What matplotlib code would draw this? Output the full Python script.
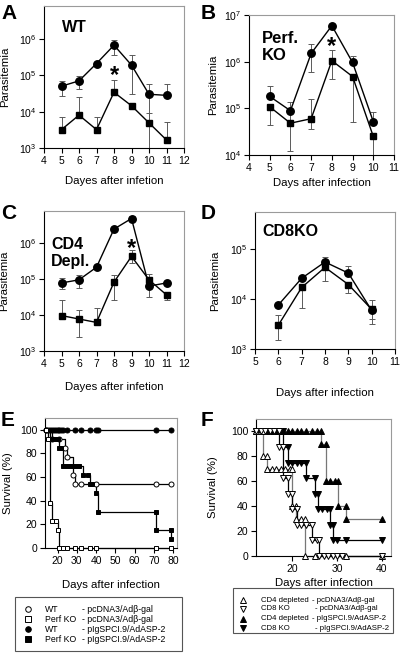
import numpy as np
import matplotlib
matplotlib.use("Agg")
import matplotlib.pyplot as plt
from matplotlib.lines import Line2D
from matplotlib.patches import Rectangle

plt.rcParams['font.family'] = ['Liberation Sans', 'DejaVu Sans']
plt.rcParams['mathtext.fontset'] = 'custom'
plt.rcParams['mathtext.rm'] = 'Liberation Sans'
plt.rcParams['mathtext.default'] = 'regular'

# ---------------- data: parasitemia ----------------
A_days = [5, 6, 7, 8, 9, 10, 11]
A_circ = [5.0e4, 7.0e4, 2.1e5, 6.7e5, 1.9e5, 3.0e4, 2.8e4]
A_circ_hi = [7.0e4, 9.5e4, 2.1e5, 9.3e5, 3.5e5, 5.6e4, 5.7e4]
A_circ_lo = [2.7e4, 4.2e4, 2.1e5, 3.6e5, 3.0e4, 8.0e2, 2.8e4]
A_sq = [3.2e3, 8.0e3, 3.2e3, 3.4e4, 1.45e4, 4.9e3, 1.66e3]
A_sq_hi = [7.3e3, 2.6e4, 7.3e3, 7.2e4, 1.45e4, 9.2e3, 5.3e3]
A_sq_lo = [3.2e3, 8.0e3, 3.2e3, 3.4e4, 1.45e4, 4.9e3, 1.66e3]

B_days = [5, 6, 7, 8, 9, 10]
B_circ = [1.8e5, 8.9e4, 1.5e6, 5.9e6, 9.6e5, 5.2e4]
B_circ_hi = [3.0e5, 8.9e4, 2.4e6, 5.9e6, 1.3e6, 8.3e4]
B_circ_lo = [1.8e5, 8.9e4, 6.0e5, 5.9e6, 9.6e5, 5.2e4]
B_sq = [1.08e5, 4.8e4, 6.0e4, 1.05e6, 4.8e5, 2.5e4]
B_sq_hi = [1.08e5, 1.4e5, 1.6e5, 1.8e6, 4.8e5, 2.5e4]
B_sq_lo = [4.5e4, 1.2e4, 3.6e4, 4.3e5, 5.2e4, 8.0e3]

C_days = [5, 6, 7, 8, 9, 10, 11]
C_circ = [7.7e4, 9.4e4, 2.1e5, 2.4e6, 4.7e6, 6.3e4, 7.7e4]
C_circ_hi = [1.07e5, 1.3e5, 2.1e5, 2.4e6, 5.4e6, 6.3e4, 7.7e4]
C_circ_lo = [5.2e4, 5.6e4, 2.1e5, 2.4e6, 4.7e6, 3.2e4, 7.7e4]
C_sq = [9.6e3, 7.7e3, 6.2e3, 8.1e4, 4.2e5, 9.4e4, 3.6e4]
C_sq_hi = [2.6e4, 1.37e4, 1.6e4, 1.3e5, 6.2e5, 1.4e5, 3.6e4]
C_sq_lo = [9.6e3, 2.4e3, 6.2e3, 2.6e4, 2.7e5, 9.4e4, 2.6e4]

D_days = [6, 7, 8, 9, 10]
D_circ = [7.6e3, 2.6e4, 5.5e4, 3.3e4, 5.9e3]
D_circ_hi = [7.6e3, 2.6e4, 7.0e4, 4.5e4, 9.4e3]
D_circ_lo = [7.6e3, 2.6e4, 5.5e4, 3.3e4, 3.9e3]
D_sq = [3.0e3, 1.7e4, 4.3e4, 1.95e4, 6.2e3]
D_sq_hi = [4.7e3, 1.7e4, 4.3e4, 1.95e4, 6.2e3]
D_sq_lo = [1.5e3, 6.7e3, 2.3e4, 1.3e4, 3.1e3]

# ---------------- data: survival E ----------------
E_wt_pc_days = [14, 17, 21, 24, 25, 28, 29, 32, 40, 71, 79]
E_wt_pc_surv = [100, 92.3, 92.3, 84.6, 76.9, 61.5, 53.8, 53.8, 53.8, 53.8, 53.8]
E_pko_pc_days = [14, 15, 16, 17, 19, 20, 21, 23, 25, 29, 32, 37, 40, 71, 79]
E_pko_pc_surv = [100, 92.3, 38.5, 23.1, 23.1, 15.4, 0, 0, 0, 0, 0, 0, 0, 0, 0]
E_wt_asp_days = [14, 15, 16, 17, 18, 19, 20, 21, 22, 23, 25, 29, 32, 37, 40, 41, 71, 79]
E_wt_asp_surv = [100] * 18
E_pko_asp_days = [14, 16, 18, 20, 21, 22, 23, 25, 27, 29, 31, 33, 36, 37, 38, 40, 41, 71, 71, 79, 79]
E_pko_asp_surv = [100, 92.3, 92.3, 92.3, 84.6, 84.6, 69.2, 69.2, 69.2, 69.2, 69.2, 61.5, 61.5,
                  53.8, 53.8, 46.2, 30.8, 30.8, 15.4, 15.4, 7.7]

# ---------------- data: survival F ----------------
F_cd4_pc_days = [12, 13, 13.5, 13.5, 14.5, 14.5, 15.5, 16.5, 17.5, 18.5, 19.5, 20, 20, 20.8, 20.8,
                 22, 22.8, 22.8, 25, 32, 40]
F_cd4_pc_surv = [100, 100, 100, 80, 80, 70, 70, 70, 70, 70, 70, 70, 40, 40, 30,
                 30, 30, 0, 0, 0, 0]
F_cd8_pc_days = [12, 13, 14, 15, 16, 17, 17, 18, 18, 19, 19, 20, 20, 21, 21, 22, 23, 24.5, 24.5,
                 25.5, 26, 26, 27, 28, 29, 30, 31, 40]
F_cd8_pc_surv = [100, 100, 100, 100, 100, 100, 87.5, 87.5, 62.5, 62.5, 50, 50, 37.5, 37.5, 25,
                 25, 25, 25, 12.5, 12.5, 12.5, 0, 0, 0, 0, 0, 0, 0]
F_cd4_asp_days = [12, 13, 14, 15, 16, 17, 18, 19, 20, 21, 22, 23, 24.5, 25.5, 26.5,
                  26.5, 27.5, 27.5, 28.5, 29.5, 30.3, 30.3, 32, 32, 40]
F_cd4_asp_surv = [100] * 15 + [90, 90, 60, 60, 60, 60, 40, 40, 30, 30]
F_cd8_asp_days = [12, 13, 14, 15, 16, 17, 18, 18, 19, 19, 20, 21, 22, 23, 23, 25, 25, 25.7, 25.7,
                  26.7, 27.7, 28.5, 28.5, 29, 29, 30, 32, 40]
F_cd8_asp_surv = [100] * 7 + [87.5] * 2 + [75] * 5 + [62.5] * 2 + [50] * 2 + [37.5] * 4 + [25] * 2 + [12.5] * 4

W, H = 400, 653
fig = plt.figure(figsize=(W / 100, H / 100), dpi=100)


def rect(x0, y0, x1, y1):
    return [x0 / W, 1 - y1 / H, (x1 - x0) / W, (y1 - y0) / H]


FRAME = '#9a9a9a'
TICK_FS = 7.5
LAB_FS = 8.2


def style(ax):
    for s in ax.spines.values():
        s.set_color(FRAME)
        s.set_linewidth(0.8)
    ax.spines['left'].set_color('black')
    ax.spines['bottom'].set_color('black')
    ax.tick_params(direction='out', length=3.5, width=0.8, labelsize=TICK_FS, pad=2, colors='black')
    ax.tick_params(which='minor', length=0)


def para(ax, days, c, clo, chi, s, slo, shi, xlim, ylim, xlabel, xlab_off, h_px):
    days = np.array(days)
    c, clo, chi = map(np.array, (c, clo, chi))
    s, slo, shi = map(np.array, (s, slo, shi))
    ax.set_yscale('log')
    ekw = dict(fmt='none', ecolor='#5a5a5a', elinewidth=0.7, capsize=2, capthick=0.7, zorder=2)
    ax.errorbar(days, c, yerr=[c - clo, chi - c], **ekw)
    ax.errorbar(days, s, yerr=[s - slo, shi - s], **ekw)
    ax.plot(days, c, '-o', color='black', ms=5.4, lw=1, zorder=3)
    ax.plot(days, s, '-s', color='black', ms=4.8, lw=1, zorder=3)
    ax.set_xlim(*xlim)
    ax.set_ylim(*ylim)
    ax.set_xticks(range(int(xlim[0]), int(xlim[1]) + 1))
    style(ax)
    ax.set_xlabel(xlabel, fontsize=LAB_FS, va='center')
    ax.xaxis.set_label_coords(0.5, -xlab_off / h_px)
    ax.set_ylabel('Parasitemia', fontsize=LAB_FS, va='center')


# Panel A
axA = fig.add_axes(rect(44, 6, 184, 148))
para(axA, A_days, A_circ, A_circ_lo, A_circ_hi, A_sq, A_sq_lo, A_sq_hi, (4, 12), (1e3, 8e6),
     'Dayes after infetion', 33, 142)
axA.yaxis.set_label_coords(-39 / 140, 0.5)
axA.set_yticks([1e3, 1e4, 1e5, 1e6])
axA.text(8, 1.0e5, '*', fontsize=17, fontweight='bold', ha='center', va='center')
axA.text(0.13, 0.85, 'WT', transform=axA.transAxes, fontsize=11.5, fontweight='bold', va='center')

# Panel B
axB = fig.add_axes(rect(249, 15, 394, 155))
para(axB, B_days, B_circ, B_circ_lo, B_circ_hi, B_sq, B_sq_lo, B_sq_hi, (4, 11), (1e4, 1e7),
     'Days after infection', 28, 140)
axB.yaxis.set_label_coords(-36 / 145, 0.5)
axB.set_yticks([1e4, 1e5, 1e6, 1e7])
axB.text(8, 2.1e6, '*', fontsize=17, fontweight='bold', ha='center', va='center')
axB.text(0.09, 0.77, 'Perf.\nKO', transform=axB.transAxes, fontsize=12, fontweight='bold',
         va='center', linespacing=1.15)

# Panel C
axC = fig.add_axes(rect(44, 211, 184, 351))
para(axC, C_days, C_circ, C_circ_lo, C_circ_hi, C_sq, C_sq_lo, C_sq_hi, (4, 12), (1e3, 7.6e6),
     'Dayes after infetion', 36, 140)
axC.yaxis.set_label_coords(-40 / 140, 0.5)
axC.set_yticks([1e3, 1e4, 1e5, 1e6])
axC.text(9, 7.0e5, '*', fontsize=17, fontweight='bold', ha='center', va='center')
axC.text(0.05, 0.7, 'CD4\nDepl.', transform=axC.transAxes, fontsize=11.5, fontweight='bold',
         va='center', linespacing=1.15)

# Panel D
axD = fig.add_axes(rect(255, 212, 395, 349))
para(axD, D_days, D_circ, D_circ_lo, D_circ_hi, D_sq, D_sq_lo, D_sq_hi, (5, 11), (1e3, 5.5e5),
     'Days after infection', 44, 137)
axD.yaxis.set_label_coords(-40 / 140, 0.5)
axD.set_yticks([1e3, 1e4, 1e5])
axD.text(0.05, 0.86, 'CD8KO', transform=axD.transAxes, fontsize=11.5, fontweight='bold', va='center')


# Survival panels
def surv(ax, series, xlim, xticks, xlab_off, h_px, ylab_off, w_px):
    for days, s, mk, mfc, lc, ms in series:
        ax.plot(days, s, drawstyle='steps-post', color=lc, lw=0.9, zorder=2, clip_on=False)
        ax.plot(days, s, linestyle='none', marker=mk, mfc=mfc, mec='black', mew=0.7, ms=ms,
                zorder=3, clip_on=False)
    ax.set_xlim(*xlim)
    ax.set_ylim(0, 110)
    ax.set_xticks(xticks)
    ax.set_yticks([0, 20, 40, 60, 80, 100])
    style(ax)
    ax.set_xlabel('Days after infection', fontsize=LAB_FS, va='center')
    ax.xaxis.set_label_coords(0.5, -xlab_off / h_px)
    ax.set_ylabel('Survival (%)', fontsize=LAB_FS, va='center')
    ax.yaxis.set_label_coords(-ylab_off / w_px, 0.5)


axE = fig.add_axes(rect(45, 418, 177, 548))
surv(axE, [
    (E_wt_asp_days, E_wt_asp_surv, 'o', 'black', 'black', 3.6),
    (E_wt_pc_days, E_wt_pc_surv, 'o', 'white', 'black', 3.6),
    (E_pko_asp_days, E_pko_asp_surv, 's', 'black', 'black', 3.4),
    (E_pko_pc_days, E_pko_pc_surv, 's', 'white', 'black', 3.4),
], (13.5, 82), [20, 30, 40, 50, 60, 70, 80], 37, 130, 37, 132)

axF = fig.add_axes(rect(256, 419, 391, 556))
surv(axF, [
    (F_cd4_asp_days, F_cd4_asp_surv, '^', 'black', '#777777', 4.0),
    (F_cd8_asp_days, F_cd8_asp_surv, 'v', 'black', 'black', 4.0),
    (F_cd4_pc_days, F_cd4_pc_surv, '^', 'white', '#777777', 4.0),
    (F_cd8_pc_days, F_cd8_pc_surv, 'v', 'white', 'black', 4.0),
], (12, 42), [20, 30, 40], 27, 137, 43, 135)

# Panel letters
for lab, x, y in [('A', 1, 4), ('B', 201, 4), ('C', 1, 204), ('D', 201, 204), ('E', 1, 411), ('F', 201, 411)]:
    fig.text(x / W, 1 - y / H, lab, fontsize=15, fontweight='bold', va='top', ha='left')


# Legends (manual boxes)
def legend_box(x0, y0, x1, y1, rows, mx, t1x, ms, fs):
    fig.patches.append(Rectangle((x0 / W, 1 - y1 / H), (x1 - x0) / W, (y1 - y0) / H,
                                 transform=fig.transFigure, fill=False, ec='#555555', lw=0.8))
    for (y, mk, mfc, t1, t2, t2x) in rows:
        fig.lines.append(Line2D([mx / W], [1 - y / H], marker=mk, mfc=mfc, mec='black', mew=0.7,
                                ms=ms, linestyle='none', transform=fig.transFigure))
        fig.text(t1x / W, 1 - y / H, t1, fontsize=fs, va='center', ha='left')
        fig.text(t2x / W, 1 - y / H, t2, fontsize=fs, va='center', ha='left')


legend_box(15, 597, 182, 651, [
    (609, 'o', 'white', 'WT', '- pcDNA3/Adβ-gal', 82),
    (619, 's', 'white', 'Perf KO', '- pcDNA3/Adβ-gal', 82),
    (629, 'o', 'black', 'WT', '- pIgSPCI.9/AdASP-2', 82),
    (639, 's', 'black', 'Perf KO', '- pIgSPCI.9/AdASP-2', 82),
], 28, 45, 4.0, 6.3)

legend_box(233, 588, 393, 633, [
    (600, '^', 'white', 'CD4 depleted', '- pcDNA3/Adβ-gal', 312),
    (609, 'v', 'white', 'CD8 KO', '- pcDNA3/Adβ-gal', 315),
    (619, '^', 'black', 'CD4 depleted', '- pIgSPCI.9/AdASP-2', 312),
    (628, 'v', 'black', 'CD8 KO', '- pIgSPCI.9/AdASP-2', 315),
], 243, 261, 4.0, 5.6)

fig.savefig('out.png', dpi=100)
